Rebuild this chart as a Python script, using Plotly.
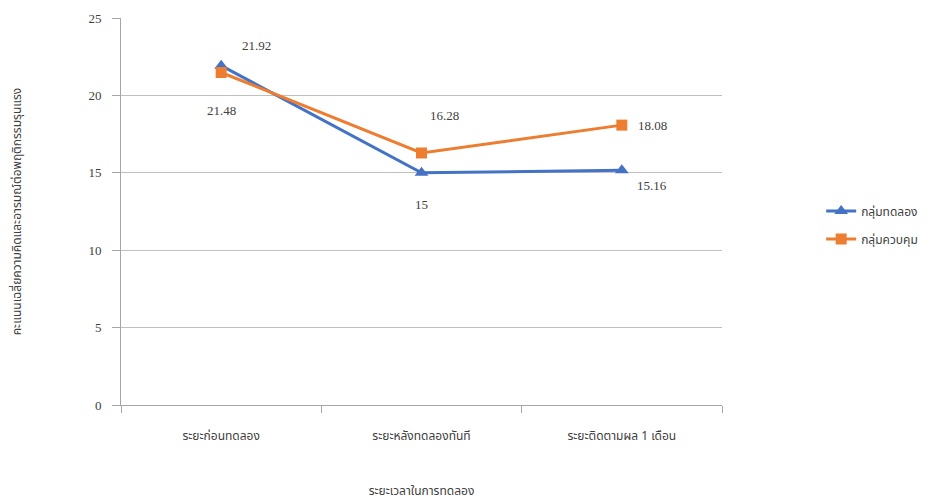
import plotly.graph_objects as go

categories = ["ระยะก่อนทดลอง", "ระยะหลังทดลองทันที", "ระยะติดตามผล 1 เดือน"]
experimental = [21.92, 15, 15.16]
control = [21.48, 16.28, 18.08]
series_names = ["กลุ่มทดลอง", "กลุ่มควบคุม"]
y_ticks = [0, 5, 10, 15, 20, 25]
x_title = "ระยะเวลาในการทดลอง"
y_title = "คะแนนเฉลี่ยความคิดและอารมณ์ต่อพฤติกรรมรุนแรง"

BLUE = "#4472C4"
ORANGE = "#ED7D31"
SERIF = "Liberation Serif"
THAI = "Noto Sans Thai, Noto Sans, sans-serif"

fig = go.Figure()
fig.add_trace(go.Scatter(
    x=categories, y=experimental, name=series_names[0], mode="lines+markers",
    legendgroup="a",
    line=dict(color=BLUE, width=3),
    marker=dict(symbol="triangle-up", size=12, color=BLUE),
))
fig.add_trace(go.Scatter(
    x=categories, y=control, name=series_names[1], mode="lines+markers",
    legendgroup="b",
    line=dict(color=ORANGE, width=3),
    marker=dict(symbol="square", size=11, color=ORANGE),
))

# label offsets (pixels) for each point
exp_shift = [(35, 20), (0, -32), (30, -15)]
ctl_shift = [(0, -38), (23, 37), (31, 0)]
for vals, shifts in ((experimental, exp_shift), (control, ctl_shift)):
    for c, v, (dx, dy) in zip(categories, vals, shifts):
        fig.add_annotation(x=c, y=v, text=f"{v:g}", showarrow=False,
                           xshift=dx, yshift=dy,
                           font=dict(family=SERIF, size=13, color="#404040"))

fig.update_layout(
    width=935, height=500,
    margin=dict(l=121, r=213, t=18, b=95),
    paper_bgcolor="white", plot_bgcolor="white",
    showlegend=True,
    legend=dict(x=1.165, y=0.465, xanchor="left", yanchor="middle",
                font=dict(family=THAI, size=12, color="#404040"),
                itemwidth=30, tracegroupgap=9, bgcolor="rgba(0,0,0,0)"),
    xaxis=dict(
        type="category", showgrid=False, showline=True, linecolor="#A6A6A6",
        linewidth=1, ticks="outside", tickson="boundaries", ticklen=7,
        tickcolor="#A6A6A6", automargin=False,
        tickfont=dict(family=THAI, size=12, color="#404040"),
        ticklabelstandoff=20,
        title=dict(text=x_title, standoff=44,
                   font=dict(family=THAI, size=12, color="#404040")),
        range=[-0.5, 2.5],
    ),
    yaxis=dict(
        range=[0, 25], tickvals=y_ticks, showgrid=True, gridcolor="#BFBFBF",
        gridwidth=1, showline=True, linecolor="#A6A6A6", linewidth=1,
        ticks="outside", ticklen=8, tickcolor="#A6A6A6", zeroline=False,
        automargin=False,
        tickfont=dict(family=SERIF, size=13, color="#404040"),
        ticklabelstandoff=8,
        title=dict(text=y_title, standoff=64,
                   font=dict(family=THAI, size=12, color="#404040")),
    ),
)

fig.write_html("out.html")
